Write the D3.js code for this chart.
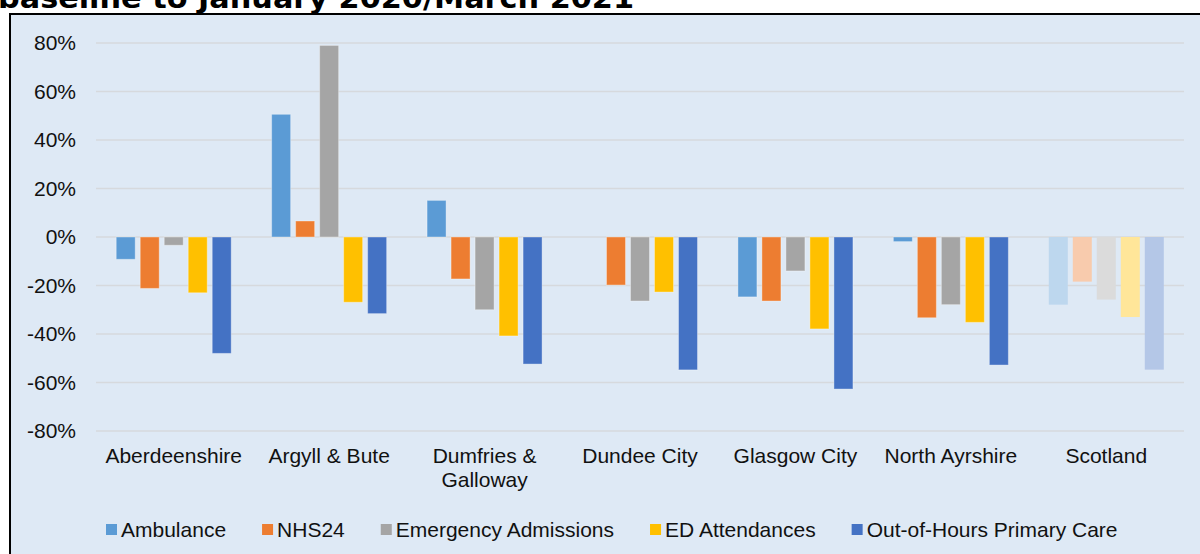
<!DOCTYPE html>
<html>
<head>
<meta charset="utf-8">
<script src="https://cdn.jsdelivr.net/npm/d3@7"></script>
<style>
    html, body { margin: 0; padding: 0; background: #fff; }
    svg { display: block; }
    .tick-label, .cat-label, .legend-label { font-family: 'Liberation Sans', Arial, sans-serif; fill: #111; }
</style>
</head>
<body>
<div id="chart"></div>
<script>
// Change from baseline, by area and service
const categories = ['Aberdeenshire', 'Argyll & Bute', 'Dumfries & Galloway', 'Dundee City', 'Glasgow City', 'North Ayrshire', 'Scotland'];
const seriesNames = ['Ambulance', 'NHS24', 'Emergency Admissions', 'ED Attendances', 'Out-of-Hours Primary Care'];
const ambulance   = [-0.092,  0.506,  0.151,  0.000, -0.247, -0.019, -0.279];
const nhs24       = [-0.212,  0.066, -0.173, -0.198, -0.264, -0.333, -0.184];
const admissions  = [-0.034,  0.790, -0.300, -0.264, -0.140, -0.279, -0.258];
const edAttend    = [-0.230, -0.269, -0.408, -0.227, -0.379, -0.352, -0.330];
const outOfHours  = [-0.480, -0.316, -0.524, -0.548, -0.627, -0.528, -0.547];
const yTicks = [-0.8, -0.6, -0.4, -0.2, 0, 0.2, 0.4, 0.6, 0.8];

const colors      = ['#5b9bd5', '#ed7d31', '#a5a5a5', '#ffc000', '#4472c4'];
const lightColors = ['#bdd7ee', '#f8cbad', '#dbdbdb', '#ffe699', '#b4c7e7'];

const width = 1200, height = 554;
const margin = { top: 43, bottom: 123, left: 96, right: 16 };
const fontSize = 21;

const svg = d3.select('#chart')
    .append('svg')
    .attr('width', width)
    .attr('height', height);

// Title (cut off at the top in the source)
svg.append('text')
    .attr('x', -2)
    .attr('y', 8)
    .attr('font-family', 'DejaVu Sans, Verdana, sans-serif')
    .attr('font-weight', 'bold')
    .attr('font-size', 28)
    .attr('textLength', 636)
    .attr('lengthAdjust', 'spacingAndGlyphs')
    .attr('fill', '#000')
    .text('baseline to January 2020/March 2021');

// Chart box
svg.append('rect')
    .attr('x', 10)
    .attr('y', 14)
    .attr('width', 1200)
    .attr('height', 600)
    .attr('fill', '#dee9f5')
    .attr('stroke', '#000')
    .attr('stroke-width', 2);

const x0 = d3.scaleBand()
    .domain(categories)
    .range([margin.left, width - margin.right])
    .paddingInner(0)
    .paddingOuter(0);

const x1 = d3.scaleBand()
    .domain(seriesNames)
    .range([0, x0.bandwidth()])
    .paddingInner(5 / 24)
    .paddingOuter(0.842);

const y = d3.scaleLinear()
    .domain([-0.8, 0.8])
    .range([height - margin.bottom, margin.top]);

// Gridlines
svg.append('g')
    .selectAll('line')
    .data(yTicks)
    .enter()
    .append('line')
    .attr('x1', margin.left)
    .attr('x2', width - margin.right)
    .attr('y1', d => y(d))
    .attr('y2', d => y(d))
    .attr('stroke', '#d6d9dd')
    .attr('stroke-width', 1.5);

// Y tick labels (plain hyphen for negatives, like the source)
svg.append('g')
    .selectAll('text')
    .data(yTicks)
    .enter()
    .append('text')
    .attr('class', 'tick-label')
    .attr('x', 76)
    .attr('y', d => y(d))
    .attr('dy', '0.35em')
    .attr('text-anchor', 'end')
    .attr('font-size', fontSize)
    .text(d => d3.format('.0%')(d).replace('\u2212', '-'));

// Bars
const seriesValues = [ambulance, nhs24, admissions, edAttend, outOfHours];
const barData = [];
categories.forEach((cat, ci) => {
    seriesNames.forEach((s, si) => {
        barData.push({ cat, series: s, si, value: seriesValues[si][ci], light: cat === 'Scotland' });
    });
});

svg.append('g')
    .selectAll('rect')
    .data(barData.filter(d => d.value !== 0))
    .enter()
    .append('rect')
    .attr('x', d => x0(d.cat) + x1(d.series))
    .attr('width', x1.bandwidth())
    .attr('y', d => y(Math.max(0, d.value)))
    .attr('height', d => Math.abs(y(d.value) - y(0)))
    .attr('fill', d => d.light ? lightColors[d.si] : colors[d.si])
    .attr('stroke', d => d.light ? 'none' : '#fff')
    .attr('stroke-opacity', 0.35)
    .attr('stroke-width', 1);

// Category labels, wrapped when wider than the band
const catLabels = svg.append('g')
    .selectAll('text')
    .data(categories)
    .enter()
    .append('text')
    .attr('class', 'cat-label')
    .attr('x', d => x0(d) + x0.bandwidth() / 2)
    .attr('y', 463)
    .attr('text-anchor', 'middle')
    .attr('font-size', fontSize)
    .text(d => d);

catLabels.each(function(d) {
    const t = d3.select(this);
    if (this.getComputedTextLength() <= x0.bandwidth() - 6) return;
    const words = d.split(' ');
    const lines = [];
    let line = [];
    t.text(null);
    const probe = t.append('tspan');
    words.forEach(w => {
        line.push(w);
        probe.text(line.join(' '));
        if (probe.node().getComputedTextLength() > x0.bandwidth() - 6 && line.length > 1) {
            line.pop();
            lines.push(line.join(' '));
            line = [w];
        }
    });
    lines.push(line.join(' '));
    probe.remove();
    lines.forEach((l, i) => {
        t.append('tspan')
            .attr('x', x0(d) + x0.bandwidth() / 2)
            .attr('dy', i === 0 ? 0 : 24)
            .text(l);
    });
});

// Legend
const legend = svg.append('g');
let cursor = 106;
seriesNames.forEach((name, i) => {
    const item = legend.append('g').attr('transform', `translate(${cursor},524)`);
    item.append('rect')
        .attr('width', 11)
        .attr('height', 11)
        .attr('fill', colors[i]);
    const label = item.append('text')
        .attr('class', 'legend-label')
        .attr('x', 15)
        .attr('y', 5.5)
        .attr('dy', '0.35em')
        .attr('font-size', fontSize)
        .text(name);
    cursor += 15 + label.node().getComputedTextLength() + 36;
});
</script>
</body>
</html>
